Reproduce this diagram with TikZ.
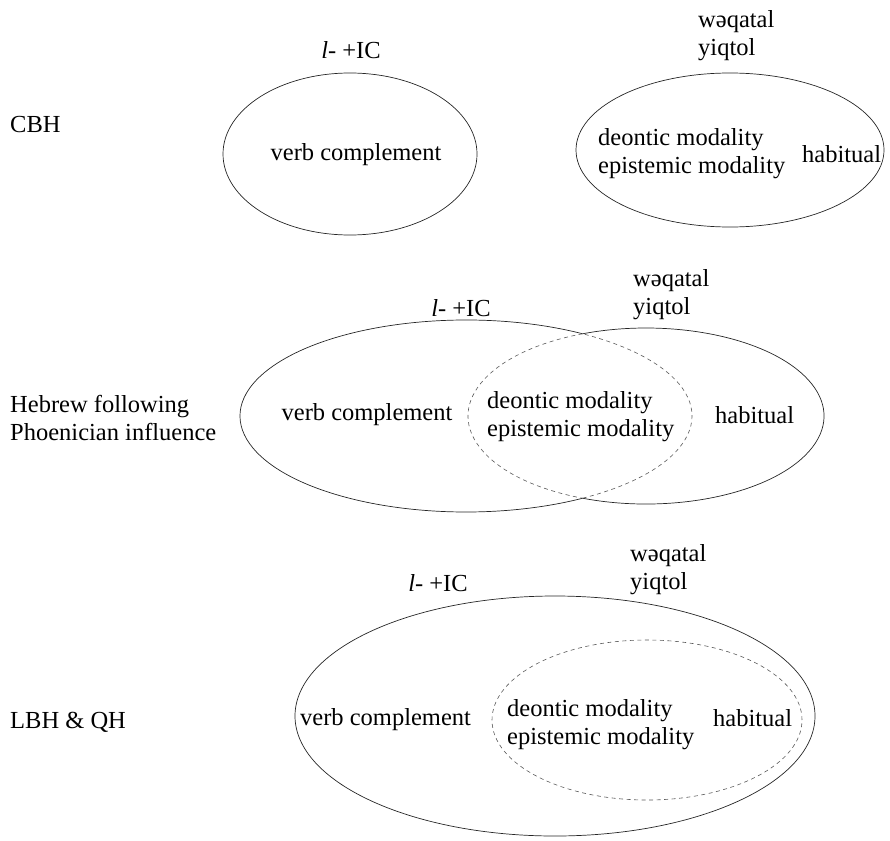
\documentclass[tikz,border=0pt]{standalone}
\usepackage{fontspec}
\setmainfont{LiberationSerif}[Extension=.ttf, UprightFont=*-Regular, ItalicFont=*-Italic, BoldFont=*-Bold, BoldItalicFont=*-BoldItalic]
\begin{document}
\begin{tikzpicture}[x=1pt,y=1pt,
  lbl/.style={font=\fontsize{24.5}{28}\selectfont, inner sep=0pt, align=left},
  solidline/.style={draw=black!85, line width=0.7pt},
  dashline/.style={draw=black!65, line width=0.6pt, dash pattern=on 4pt off 3.5pt}]
\useasboundingbox (0,0) rectangle (890,-840);

% ---------- Row 1: CBH ----------
\node[lbl, anchor=west] (cbh) at (10,-125) {CBH};
\draw[solidline] (350,-154) ellipse [x radius=127, y radius=81];
\node[lbl] (ic1) at (351,-50) {\textit{l}- +IC};
\node[lbl] (vc1) at (356,-155) {verb complement};
\draw[solidline] (730,-150) ellipse [x radius=154, y radius=77];
\node[lbl, anchor=west] (wq1) at (698,-36) {wəqatal\\yiqtol};
\node[lbl, anchor=west] (mod1) at (598,-154) {deontic modality\\epistemic modality};
\node[lbl, anchor=west] (hab1) at (802,-154) {habitual};

% ---------- Row 2: Hebrew following Phoenician influence ----------
\node[lbl, anchor=west] (heb) at (10,-418) {Hebrew following\\Phoenician influence};
\draw[solidline] (466,-416) ++(58.94:226 and 96)
  arc[start angle=58.94, end angle=301.06, x radius=226, y radius=96];
\draw[dashline] (466,-416) ++(-58.94:226 and 96)
  arc[start angle=-58.94, end angle=58.94, x radius=226, y radius=96];
\draw[solidline] (646,-416) ++(-110.87:178 and 88)
  arc[start angle=-110.87, end angle=110.87, x radius=178, y radius=88];
\draw[dashline] (646,-416) ++(110.87:178 and 88)
  arc[start angle=110.87, end angle=249.13, x radius=178, y radius=88];
\node[lbl] (ic2) at (461,-308) {\textit{l}- +IC};
\node[lbl, anchor=west] (wq2) at (633,-295) {wəqatal\\yiqtol};
\node[lbl] (vc2) at (367,-415) {verb complement};
\node[lbl, anchor=west] (mod2) at (487,-417) {deontic modality\\epistemic modality};
\node[lbl, anchor=west] (hab2) at (715,-415) {habitual};

% ---------- Row 3: LBH & QH ----------
\node[lbl, anchor=west] (lbh) at (10,-722) {LBH \& QH};
\draw[solidline] (555,-716) ellipse [x radius=260, y radius=120];
\draw[dashline] (647,-720) ellipse [x radius=155, y radius=80];
\node[lbl] (ic3) at (438,-583) {\textit{l}- +IC};
\node[lbl, anchor=west] (wq3) at (630,-570) {wəqatal\\yiqtol};
\node[lbl, anchor=west] (vc3) at (300,-720) {verb complement};
\node[lbl, anchor=west] (mod3) at (507,-725) {deontic modality\\epistemic modality};
\node[lbl, anchor=west] (hab3) at (713,-718) {habitual};
\end{tikzpicture}
\end{document}
